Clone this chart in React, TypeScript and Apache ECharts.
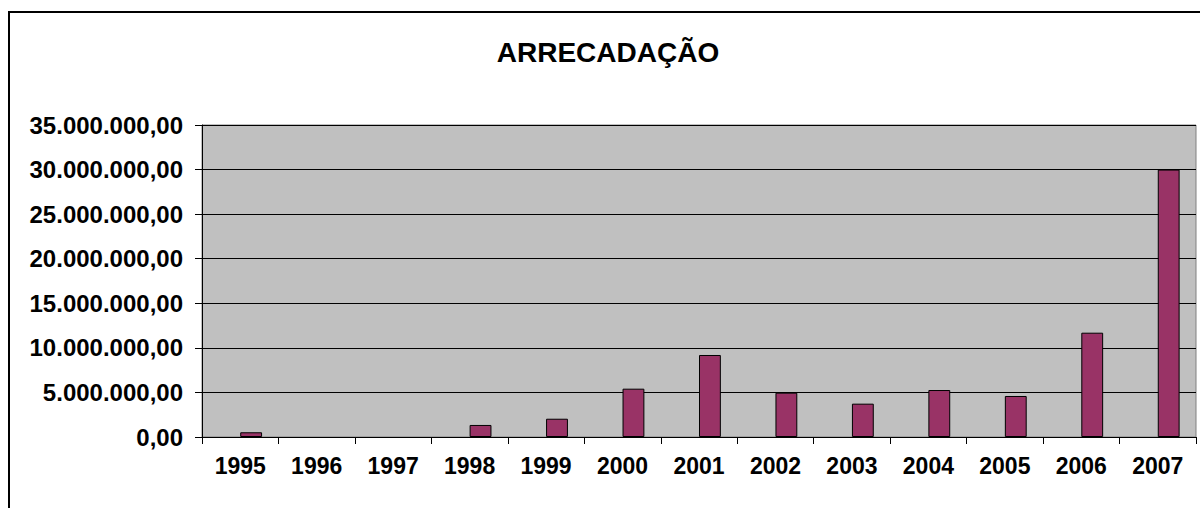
import React, { useEffect, useRef } from "react";
import * as echarts from "echarts";

const years = ["1995", "1996", "1997", "1998", "1999", "2000", "2001", "2002", "2003", "2004", "2005", "2006", "2007"];
const arrecadacao = [530000, 0, 0, 1350000, 2050000, 5420000, 9200000, 4970000, 3740000, 5270000, 4600000, 11700000, 30000000];
const emptySeries = [null, null, null, null, null, null, null, null, null, null, null, null, null];
const yMin = 0;
const yMax = 35000000;
const yStep = 5000000;

function fmtBR(v: number): string {
  const s = Math.round(v).toString();
  const withDots = s.replace(/\B(?=(\d{3})+(?!\d))/g, ".");
  return withDots + ",00";
}

export default function App() {
  const ref = useRef<HTMLDivElement>(null);
  useEffect(() => {
    document.body.style.margin = "0";
    const chart = echarts.init(ref.current!, undefined, { renderer: "svg" });
    const font = "'Liberation Sans', Arial, sans-serif";
    chart.setOption({
      animation: false,
      backgroundColor: "#ffffff",
      graphic: [
        {
          type: "rect",
          shape: { x: 9, y: 12, width: 1200, height: 510 },
          style: { fill: "none", stroke: "#000", lineWidth: 2 },
          silent: true,
        },
        {
          type: "text",
          x: 608,
          y: 52,
          style: {
            text: "ARRECADAÇÃO",
            fontFamily: font,
            fontWeight: "bold",
            fontSize: 28,
            fill: "#000",
            align: "center",
            verticalAlign: "middle",
          },
          silent: true,
        },
      ],
      grid: {
        left: 202,
        top: 125,
        right: 4,
        bottom: 71,
        show: true,
        backgroundColor: "#C0C0C0",
        borderColor: "#808080",
        borderWidth: 1,
      },
      xAxis: {
        type: "category",
        data: years,
        axisLine: { show: true, lineStyle: { color: "#000", width: 1 } },
        axisTick: { show: true, length: 7, lineStyle: { color: "#000" } },
        axisLabel: {
          margin: 17,
          fontFamily: font,
          fontWeight: "bold",
          fontSize: 23,
          color: "#000",
          interval: 0,
        },
        splitLine: { show: false },
      },
      yAxis: {
        type: "value",
        min: yMin,
        max: yMax,
        interval: yStep,
        axisLine: { show: true, lineStyle: { color: "#000", width: 1 } },
        axisTick: { show: true, length: 7, lineStyle: { color: "#000" } },
        axisLabel: {
          margin: 19,
          fontFamily: font,
          fontWeight: "bold",
          fontSize: 24,
          color: "#000",
          formatter: (v: number) => fmtBR(v),
        },
        splitLine: { show: true, lineStyle: { color: "#000", width: 1 } },
      },
      series: [
        {
          type: "bar",
          name: "",
          data: emptySeries,
          barGap: "0%",
          barCategoryGap: "42.857%",
          itemStyle: { color: "#993366", borderColor: "#000", borderWidth: 1 },
        },
        {
          type: "bar",
          name: "ARRECADAÇÃO",
          data: arrecadacao.map((v) => (v === 0 ? null : v)),
          barGap: "0%",
          barCategoryGap: "42.857%",
          itemStyle: { color: "#993366", borderColor: "#000", borderWidth: 1 },
        },
      ],
    });
    return () => chart.dispose();
  }, []);
  return <div ref={ref} style={{ position: "absolute", left: 0, top: 0, width: 1200, height: 508 }} />;
}
